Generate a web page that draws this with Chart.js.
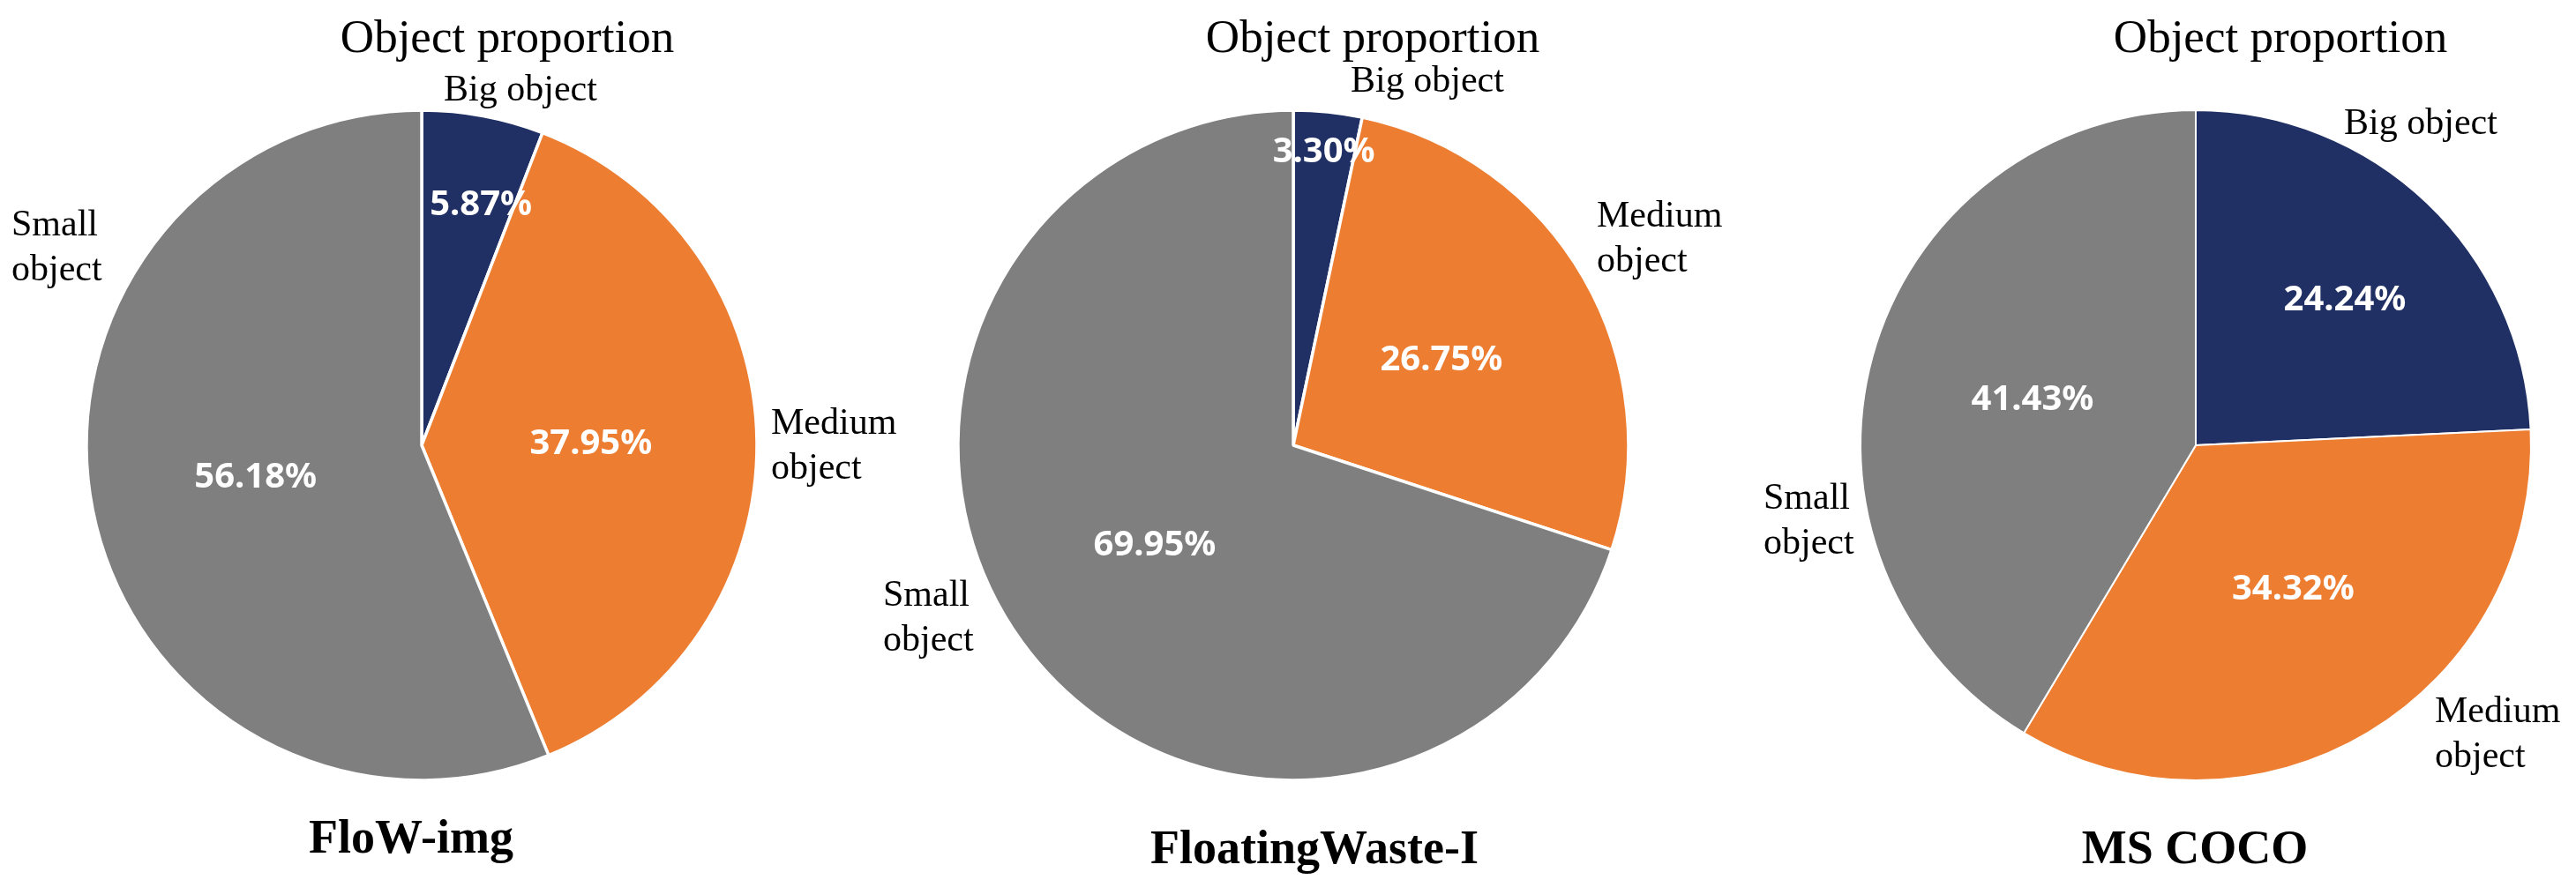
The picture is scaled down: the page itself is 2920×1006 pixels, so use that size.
<!DOCTYPE html>
<html>
<head>
<meta charset="utf-8">
<script src="https://cdn.jsdelivr.net/npm/chart.js@4.4.1/dist/chart.umd.min.js"></script>
<style>
  html, body { margin: 0; padding: 0; background: #fff; }
  body { width: 2920px; height: 1006px; position: relative; overflow: hidden; }
  .pie { position: absolute; top: 0; height: 1006px; }
</style>
</head>
<body>
<div class="pie" id="box0"><canvas id="pie0"></canvas></div>
<div class="pie" id="box1"><canvas id="pie1"></canvas></div>
<div class="pie" id="box2"><canvas id="pie2"></canvas></div>
<script>
// data
const categories = ['Big object', 'Medium object', 'Small object'];
const datasetNames = ['FloW-img', 'FloatingWaste-I', 'MS COCO'];
const flowImg = [5.87, 37.95, 56.18];
const floatingWaste = [3.30, 26.75, 69.95];
const msCoco = [24.24, 34.32, 41.43];
const chartTitle = 'Object proportion';
const sliceColors = ['#203064', '#ED7D31', '#7F7F7F'];

// placement of each pie and its texts (offsets are from the pie centre)
const layouts = [
    { left: 0, width: 1040, cx: 478, border: 3.5, titleDx: 97, nameDx: -12, nameY: 967,
      inner: [{ r: 0.737, shift: 3.3 }, { r: 0.505 }, { r: 0.505 }],
      outer: [{ dx: 112, dy: -391, align: 'center', wrap: false },
              { dx: 396, dy: -13, align: 'left', wrap: true },
              { dx: -465, dy: -238, align: 'left', wrap: true }] },
    { left: 960, width: 1020, cx: 1466, border: 3.5, titleDx: 90, nameDx: 24, nameY: 979,
      inner: [{ r: 0.88 }, { r: 0.51 }, { r: 0.51 }],
      outer: [{ dx: 152, dy: -401, align: 'center', wrap: false },
              { dx: 344, dy: -248, align: 'left', wrap: true },
              { dx: -465, dy: 182, align: 'left', wrap: true }] },
    { left: 1960, width: 960, cx: 2489, border: 2, titleDx: 96, nameDx: -1, nameY: 979,
      inner: [{ r: 0.62, shift: 2.2 }, { r: 0.52, shift: -3 }, { r: 0.505 }],
      outer: [{ dx: 255, dy: -353, align: 'center', wrap: false },
              { dx: 271, dy: 314, align: 'left', wrap: true },
              { dx: -490, dy: 72, align: 'left', wrap: true }] }
];
const seriesList = [flowImg, floatingWaste, msCoco];
const CY = 505, RADIUS = 380;

function textPlugin(idx) {
    const lay = layouts[idx];
    return {
        id: 'pieText' + idx,
        afterDraw(chart) {
            const ctx = chart.ctx;
            const arcs = chart.getDatasetMeta(0).data;
            const cx = arcs[0].x, cy = arcs[0].y;
            ctx.save();
            ctx.fillStyle = '#000';
            ctx.textBaseline = 'alphabetic';

            // title
            ctx.font = '53px "Liberation Serif", "Times New Roman", serif';
            ctx.textAlign = 'center';
            ctx.fillText(chartTitle, cx + lay.titleDx, 59);

            // dataset name under the pie
            ctx.font = 'bold 54px "Liberation Serif", "Times New Roman", serif';
            ctx.fillText(datasetNames[idx], cx + lay.nameDx, lay.nameY);

            // category labels outside
            ctx.font = '42px "Liberation Serif", "Times New Roman", serif';
            lay.outer.forEach((o, i) => {
                const lines = o.wrap ? categories[i].split(' ') : [categories[i]];
                ctx.textAlign = o.align;
                lines.forEach((ln, k) => ctx.fillText(ln, cx + o.dx, cy + o.dy + k * 51));
            });

            // percentages inside
            ctx.font = 'bold 40px "Noto Sans", sans-serif';
            ctx.fillStyle = '#fff';
            ctx.textAlign = 'center';
            ctx.textBaseline = 'middle';
            arcs.forEach((arc, i) => {
                const p = lay.inner[i];
                const mid = (arc.startAngle + arc.endAngle) / 2 + (p.shift || 0) * Math.PI / 180;
                const rho = arc.outerRadius * p.r;
                const val = seriesList[idx][i];
                ctx.fillText(val.toFixed(2) + '%', cx + rho * Math.cos(mid), cy + rho * Math.sin(mid));
            });
            ctx.restore();
        }
    };
}

layouts.forEach((lay, idx) => {
    const box = document.getElementById('box' + idx);
    box.style.left = lay.left + 'px';
    box.style.width = lay.width + 'px';
    const half = RADIUS + lay.border / 2;
    new Chart(document.getElementById('pie' + idx), {
        type: 'pie',
        data: {
            labels: categories,
            datasets: [{
                data: seriesList[idx],
                backgroundColor: sliceColors,
                borderColor: '#fff',
                borderWidth: lay.border
            }]
        },
        options: {
            responsive: true,
            maintainAspectRatio: false,
            animation: false,
            events: [],
            layout: {
                padding: {
                    left: lay.cx - lay.left - half,
                    right: lay.left + lay.width - lay.cx - half,
                    top: CY - half,
                    bottom: 1006 - CY - half
                }
            },
            plugins: {
                legend: { display: false },
                tooltip: { enabled: false },
                title: { display: false }
            }
        },
        plugins: [textPlugin(idx)]
    });
});
</script>
</body>
</html>
